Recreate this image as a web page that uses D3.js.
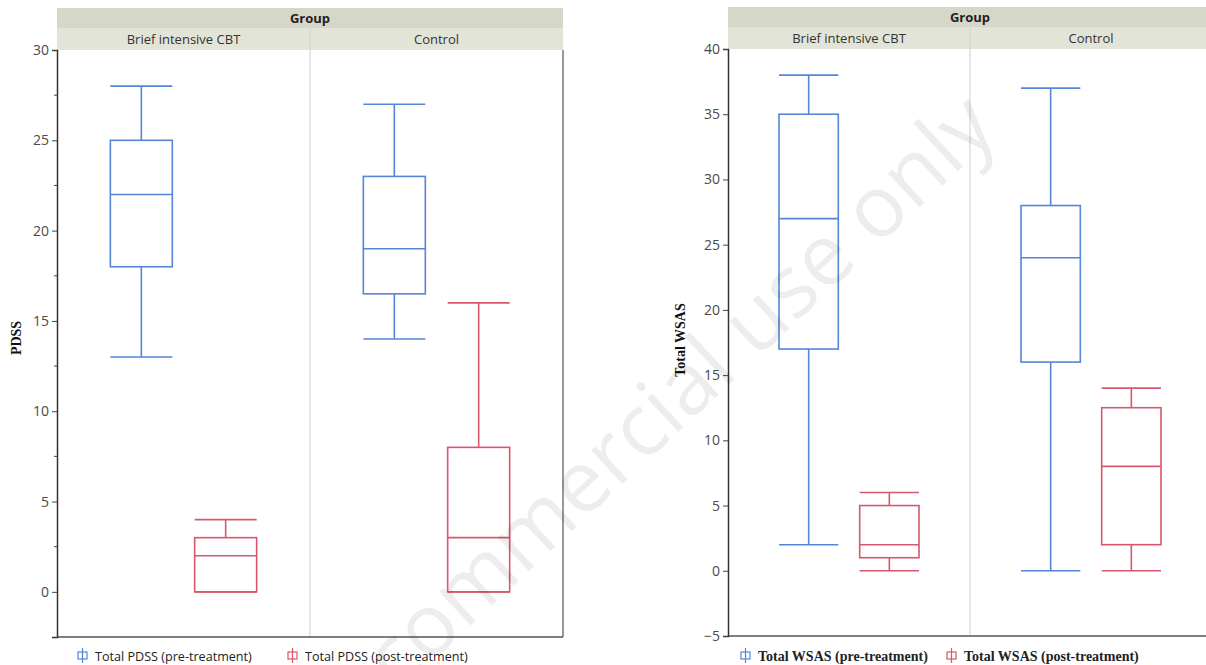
<!DOCTYPE html>
<html>
<head>
<meta charset="utf-8">
<script src="https://cdn.jsdelivr.net/npm/d3@7"></script>
<style>
  body { margin: 0; background: #fff; }
  svg { display: block; }
</style>
</head>
<body>
<div id="chart"></div>
<script>
"use strict";

// == DATA ==
var groups = ["Brief intensive CBT", "Control"];
var series = ["pre", "post"];

// [min, q1, median, q3, max] for each group
var pdssPre  = [[13, 18, 22, 25, 28], [14, 16.5, 19, 23, 27]];
var pdssPost = [[0, 0, 2, 3, 4], [0, 0, 3, 8, 16]];
var wsasPre  = [[2, 17, 27, 35, 38], [0, 16, 24, 28, 37]];
var wsasPost = [[0, 1, 2, 5, 6], [0, 2, 8, 12.5, 14]];

var pdssTicks = [0, 5, 10, 15, 20, 25, 30];
var pdssMinor = [2.5, 7.5, 12.5, 17.5, 22.5, 27.5];
var wsasTicks = [-5, 0, 5, 10, 15, 20, 25, 30, 35, 40];

var pdssLegend = ["Total PDSS (pre-treatment)", "Total PDSS (post-treatment)"];
var wsasLegend = ["Total WSAS (pre-treatment)", "Total WSAS (post-treatment)"];

var colors = { pre: "#5585d6", post: "#d7586c" };

// == BOILERPLATE ==
var W = 1206, H = 665;
var svg = d3.select("#chart").append("svg")
  .attr("width", W).attr("height", H);

var tickFont = "'Open Sans', 'Noto Sans', sans-serif";
var serif = "'Liberation Serif', 'DejaVu Serif', serif";

function drawPanel(o) {
  var g = svg.append("g");

  var y = d3.scaleLinear().domain(o.domain).range([o.bottom, o.top]);
  var xg = d3.scaleBand().domain(groups).range([o.left, o.right]);
  var xs = d3.scalePoint().domain(series).range([0, xg.bandwidth()]).padding(1);
  var bw = xg.bandwidth() * 0.245;

  // header bands
  g.append("rect").attr("x", o.left).attr("y", o.headTop)
    .attr("width", o.right - o.left).attr("height", 20)
    .attr("fill", "#d6d7c8");
  g.append("rect").attr("x", o.left).attr("y", o.headTop + 20)
    .attr("width", o.right - o.left).attr("height", o.top - o.headTop - 20)
    .attr("fill", "#e3e4d8");
  g.append("text").attr("x", (o.left + o.right) / 2).attr("y", o.headTop + 15)
    .attr("text-anchor", "middle").attr("font-family", tickFont)
    .attr("font-size", 13).attr("font-weight", "bold").attr("fill", "#222")
    .text("Group");
  g.selectAll(".sub").data(groups).enter().append("text")
    .attr("x", function (d) { return xg(d) + xg.bandwidth() / 2; })
    .attr("y", o.headTop + 36)
    .attr("text-anchor", "middle").attr("font-family", tickFont)
    .attr("font-size", 13).attr("fill", "#333")
    .text(function (d) { return d; });

  // panel divider
  g.append("line")
    .attr("x1", xg(groups[1])).attr("x2", xg(groups[1]))
    .attr("y1", o.headTop + 20).attr("y2", o.bottom)
    .attr("stroke", "#d6d6d6").attr("stroke-width", 1.2);

  if (o.rightBorder) {
    g.append("line").attr("x1", o.right).attr("x2", o.right)
      .attr("y1", o.top).attr("y2", o.bottom)
      .attr("stroke", "#777").attr("stroke-width", 1.5);
  }
  g.append("line").attr("x1", o.left).attr("x2", o.right)
    .attr("y1", o.bottom).attr("y2", o.bottom)
    .attr("stroke", "#555").attr("stroke-width", 1.5);

  // y axis
  var ax = g.append("g").attr("transform", "translate(" + o.left + ",0)")
    .call(d3.axisLeft(y).tickValues(o.ticks).tickSizeOuter(0).tickSize(5).tickPadding(3));
  ax.select(".domain").attr("stroke", "#333").attr("stroke-width", 1.5);
  ax.selectAll(".tick line").attr("stroke", "#444");
  ax.selectAll("text").attr("font-family", tickFont).attr("font-size", 14).attr("fill", "#4a4a4a");
  if (o.minor) {
    g.selectAll(".minor").data(o.minor).enter().append("line")
      .attr("x1", o.left - 3).attr("x2", o.left)
      .attr("y1", function (d) { return y(d); }).attr("y2", function (d) { return y(d); })
      .attr("stroke", "#444");
  }

  // axis title
  g.append("text")
    .attr("transform", "translate(" + o.titleX + "," + o.titleY + ") rotate(-90)")
    .attr("text-anchor", "middle").attr("font-family", serif)
    .attr("font-size", 14).attr("font-weight", "bold").attr("fill", "#111")
    .text(o.title);

  // boxes
  var boxes = [];
  groups.forEach(function (gr, i) {
    boxes.push({ group: gr, s: "pre", v: o.pre[i] });
    boxes.push({ group: gr, s: "post", v: o.post[i] });
  });

  var b = g.selectAll(".box").data(boxes).enter().append("g")
    .attr("stroke", function (d) { return colors[d.s]; })
    .attr("stroke-width", 1.6).attr("fill", "none");

  function cx(d) { return xg(d.group) + xs(d.s); }

  // whiskers
  b.append("line")
    .attr("x1", cx).attr("x2", cx)
    .attr("y1", function (d) { return y(d.v[4]); })
    .attr("y2", function (d) { return y(d.v[3]); });
  b.append("line")
    .attr("x1", cx).attr("x2", cx)
    .attr("y1", function (d) { return y(d.v[1]); })
    .attr("y2", function (d) { return y(d.v[0]); });
  // caps
  [0, 4].forEach(function (k) {
    b.append("line")
      .attr("x1", function (d) { return cx(d) - bw / 2; })
      .attr("x2", function (d) { return cx(d) + bw / 2; })
      .attr("y1", function (d) { return y(d.v[k]); })
      .attr("y2", function (d) { return y(d.v[k]); });
  });
  b.append("rect")
    .attr("x", function (d) { return cx(d) - bw / 2; })
    .attr("width", bw)
    .attr("y", function (d) { return y(d.v[3]); })
    .attr("height", function (d) { return y(d.v[1]) - y(d.v[3]); });
  b.append("line")
    .attr("x1", function (d) { return cx(d) - bw / 2; })
    .attr("x2", function (d) { return cx(d) + bw / 2; })
    .attr("y1", function (d) { return y(d.v[2]); })
    .attr("y2", function (d) { return y(d.v[2]); });

  // legend
  var lg = g.selectAll(".leg").data(o.legend).enter().append("g")
    .attr("transform", function (d, i) { return "translate(" + o.legendX[i] + "," + o.legendY + ")"; });
  lg.append("rect").attr("x", -4).attr("y", -4).attr("width", 9).attr("height", 7)
    .attr("fill", "none")
    .attr("stroke", function (d, i) { return colors[series[i]]; }).attr("stroke-width", 1.2);
  lg.append("line").attr("x1", 0.5).attr("x2", 0.5).attr("y1", -8).attr("y2", 7)
    .attr("stroke", function (d, i) { return colors[series[i]]; }).attr("stroke-width", 1.2);
  lg.append("text").attr("x", 13).attr("y", 5)
    .attr("font-family", o.legendFont).attr("font-size", o.legendSize)
    .attr("font-weight", o.legendWeight).attr("fill", "#222")
    .text(function (d) { return d; });
}

drawPanel({
  left: 57, right: 563, top: 50, bottom: 637, headTop: 8,
  domain: [-2.5, 30], ticks: pdssTicks, minor: pdssMinor,
  pre: pdssPre, post: pdssPost, rightBorder: true,
  title: "PDSS", titleX: 21, titleY: 338,
  legend: pdssLegend, legendX: [82, 292], legendY: 656,
  legendFont: tickFont, legendWeight: "normal", legendSize: 12.6
});

drawPanel({
  left: 728, right: 1212, top: 49, bottom: 636, headTop: 7,
  domain: [-5, 40], ticks: wsasTicks, minor: null,
  pre: wsasPre, post: wsasPost, rightBorder: false,
  title: "Total WSAS", titleX: 685, titleY: 340,
  legend: wsasLegend, legendX: [745, 951], legendY: 656,
  legendFont: serif, legendWeight: "bold", legendSize: 14
});

// watermark
svg.append("text")
  .attr("transform", "translate(1000,132) rotate(-43)")
  .attr("text-anchor", "end")
  .attr("font-family", tickFont).attr("font-size", 86)
  .attr("fill", "#000").attr("fill-opacity", 0.07)
  .text("Non-commercial use only");
</script>
</body>
</html>
